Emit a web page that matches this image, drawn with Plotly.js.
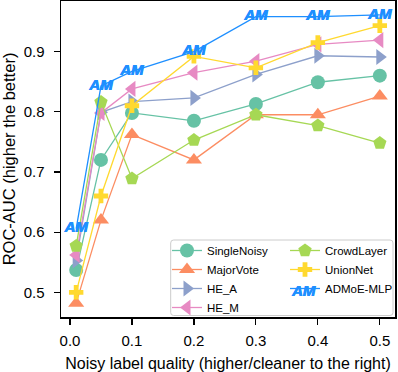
<!DOCTYPE html>
<html>
<head>
<meta charset="utf-8">
<script src="https://cdn.plot.ly/plotly-3.0.1.min.js"></script>
<style>
html,body{margin:0;padding:0;background:#fff;}
#chart{width:398px;height:372px;}
</style>
</head>
<body>
<div id="chart"></div>
<script>
// Noisy label quality levels (x)
const quality = [0.01, 0.05, 0.1, 0.2, 0.3, 0.4, 0.5];
// ROC-AUC per method
const singleNoisy = [0.537, 0.720, 0.798, 0.785, 0.813, 0.849, 0.860];
const majorVote   = [0.482, 0.620, 0.762, 0.720, 0.795, 0.795, 0.826];
const heA         = [0.553, 0.799, 0.817, 0.823, 0.862, 0.893, 0.891];
const heM         = [0.562, 0.798, 0.838, 0.865, 0.884, 0.912, 0.919];
const crowdLayer  = [0.577, 0.816, 0.689, 0.753, 0.795, 0.777, 0.748];
const unionNet    = [0.500, 0.660, 0.810, 0.892, 0.873, 0.915, 0.943];
const admoe       = [0.606, 0.843, 0.867, 0.900, 0.958, 0.958, 0.961];
const xTicks = [0, 0.1, 0.2, 0.3, 0.4, 0.5];
const xTickText = ['0.0', '0.1', '0.2', '0.3', '0.4', '0.5'];
const yTicks = [0.5, 0.6, 0.7, 0.8, 0.9];
const yTickText = ['0.5', '0.6', '0.7', '0.8', '0.9'];

const FONT = 'Liberation Sans, Arial, Helvetica, sans-serif';
const AMBLUE = '#1e8fff';
const AM_SHADOW = '0.5px 0 0 ' + AMBLUE + ', -0.3px 0 0 ' + AMBLUE;

function series(name, y, color, symbol, size, legend) {
  return {
    x: quality, y: y, name: name, type: 'scatter', mode: 'lines+markers',
    line: {color: color, width: 1.3},
    marker: {color: color, symbol: symbol, size: size, line: {width: 0}},
    legend: legend
  };
}

const traces = [
  series('SingleNoisy', singleNoisy, '#66c2a5', 'circle', 14, 'legend'),
  series('MajorVote', majorVote, '#fc8d62', 'triangle-up', 14, 'legend'),
  series('HE_A', heA, '#8da0cb', 'triangle-right', 14, 'legend'),
  series('HE_M', heM, '#e78ac3', 'triangle-left', 14, 'legend'),
  series('CrowdLayer', crowdLayer, '#a6d854', 'pentagon', 14, 'legend2'),
  series('UnionNet', unionNet, '#ffd92f', 'cross', 12, 'legend2'),
  {
    x: quality, y: admoe, name: 'ADMoE-MLP', type: 'scatter', mode: 'lines',
    line: {color: AMBLUE, width: 1.3}, legend: 'legend2'
  },
  {
    x: quality, y: admoe, name: 'ADMoE-MLP', type: 'scatter', mode: 'text',
    text: quality.map(() => 'AM'), textposition: 'middle center',
    textfont: {family: FONT, size: 15, color: AMBLUE, weight: 'bold', style: 'italic', shadow: AM_SHADOW},
    showlegend: false, hoverinfo: 'skip'
  }
];

// plot area: x 61..396, y 1..317
const PL = 61, PR = 396, PT = 1, PB = 317;
const px = v => (v - PL) / (PR - PL);
const py = v => (PB - v) / (PB - PT);

const legendFont = {family: FONT, size: 11.5, color: '#000'};
const LEG_TOP = 236, LEG1_X = 167, LEG2_X = 285;

const amLegendNote = (cx, cy) => ({
  xref: 'paper', yref: 'paper', x: px(cx), y: py(cy), xanchor: 'center', yanchor: 'middle',
  text: '<b><i>AM</i></b>', showarrow: false,
  font: {family: FONT, size: 15, color: AMBLUE, shadow: AM_SHADOW}
});

// legend frame with slightly rounded corners (pixel box -> paper path)
function roundedBox(x0, y0, x1, y1, r) {
  const X = v => px(v).toFixed(5), Y = v => py(v).toFixed(5);
  return 'M' + X(x0 + r) + ',' + Y(y0) +
    ' L' + X(x1 - r) + ',' + Y(y0) + ' Q' + X(x1) + ',' + Y(y0) + ' ' + X(x1) + ',' + Y(y0 + r) +
    ' L' + X(x1) + ',' + Y(y1 - r) + ' Q' + X(x1) + ',' + Y(y1) + ' ' + X(x1 - r) + ',' + Y(y1) +
    ' L' + X(x0 + r) + ',' + Y(y1) + ' Q' + X(x0) + ',' + Y(y1) + ' ' + X(x0) + ',' + Y(y1 - r) +
    ' L' + X(x0) + ',' + Y(y0 + r) + ' Q' + X(x0) + ',' + Y(y0) + ' ' + X(x0 + r) + ',' + Y(y0) + ' Z';
}

const layout = {
  width: 398, height: 372,
  margin: {l: PL, r: 398 - PR, t: PT, b: 372 - PB, pad: 0},
  paper_bgcolor: '#fff', plot_bgcolor: '#fff',
  font: {family: FONT, color: '#000'},
  showlegend: true,
  xaxis: {
    range: [-0.0145, 0.5245], tickvals: xTicks, ticktext: xTickText,
    showgrid: false, zeroline: false, showline: true, mirror: true,
    linecolor: '#000', linewidth: 1.5,
    ticks: 'outside', ticklen: 6, tickwidth: 1.2, tickcolor: '#000',
    ticklabelstandoff: 3,
    tickfont: {family: FONT, size: 15, color: '#000'},
    title: {text: 'Noisy label quality (higher/cleaner to the right)', font: {family: FONT, size: 16, color: '#000'}, standoff: 12}
  },
  yaxis: {
    range: [0.459, 0.984], tickvals: yTicks, ticktext: yTickText,
    showgrid: false, zeroline: false, showline: true, mirror: true,
    linecolor: '#000', linewidth: 1.5,
    ticks: 'outside', ticklen: 6, tickwidth: 1.2, tickcolor: '#000',
    ticklabelstandoff: 6,
    tickfont: {family: FONT, size: 15, color: '#000'},
    title: {text: 'ROC-AUC (higher the better)', font: {family: FONT, size: 16.5, color: '#000'}, standoff: 9}
  },
  legend: {
    x: px(LEG1_X), xanchor: 'left', y: py(LEG_TOP), yanchor: 'top',
    bgcolor: 'rgba(0,0,0,0)', borderwidth: 0, font: legendFont,
    itemwidth: 30
  },
  legend2: {
    x: px(LEG2_X), xanchor: 'left', y: py(LEG_TOP), yanchor: 'top',
    bgcolor: 'rgba(0,0,0,0)', borderwidth: 0, font: legendFont,
    itemwidth: 30
  },
  shapes: [{
    type: 'path', xref: 'paper', yref: 'paper', layer: 'above',
    path: roundedBox(171, 240, 394, 315.5, 3),
    fillcolor: 'rgba(255,255,255,0.8)', line: {color: '#cccccc', width: 1}
  }],
  annotations: [amLegendNote(LEG2_X + 19, LEG_TOP + 14 + 2 * 20)]
};

Plotly.newPlot('chart', traces, layout, {staticPlot: true, displayModeBar: false}).then(gd => {
  // refine the "AM" glyph position onto the ADMoE-MLP legend line
  try {
    const groups = gd.querySelectorAll('g.legend2 g.traces');
    let target = null;
    groups.forEach(g => {
      const t = g.querySelector('text.legendtext');
      if (t && t.textContent === 'ADMoE-MLP') target = g;
    });
    if (!target) return;
    const line = target.querySelector('path.js-line');
    if (!line) return;
    const r = line.getBoundingClientRect();
    const c = gd.getBoundingClientRect();
    const cx = r.left + r.width / 2 - c.left;
    const cy = r.top + r.height / 2 - c.top;
    if (isFinite(cx) && isFinite(cy) && r.width > 0) {
      return Plotly.relayout(gd, {annotations: [amLegendNote(cx, cy)]});
    }
  } catch (e) {}
});
</script>
</body>
</html>
